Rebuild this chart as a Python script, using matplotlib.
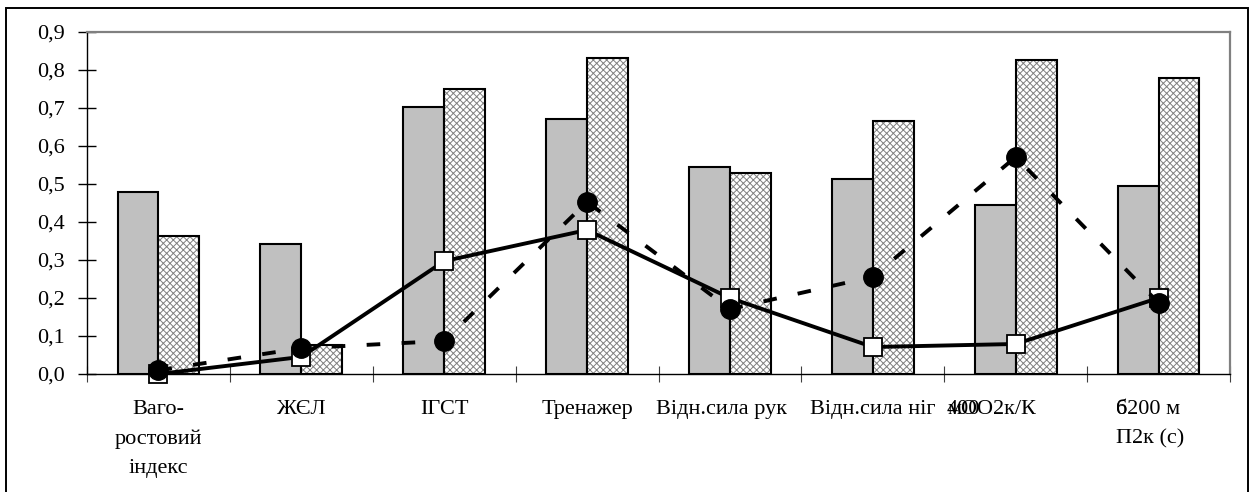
import numpy as np
import matplotlib
matplotlib.use("Agg")
import matplotlib.pyplot as plt
from matplotlib.patches import Rectangle
from matplotlib.ticker import FixedLocator, NullFormatter, FuncFormatter

# ---------------- data ----------------
categories = ["Ваго-\nростовий\nіндекс", "ЖЄЛ", "ІГСТ", "Тренажер",
              "Відн.сила рук", "Відн.сила ніг", "мОО2к/К", "6200 м\nП2к (с)"]
overlay_labels = ["", "", "", "", "", "", "400", "б"]
gray_values = [0.479, 0.342, 0.703, 0.671, 0.545, 0.513, 0.445, 0.495]
hatched_values = [0.364, 0.076, 0.750, 0.832, 0.529, 0.666, 0.826, 0.780]
square_values = [0.000, 0.045, 0.297, 0.379, 0.200, 0.071, 0.079, 0.200]
circle_values = [0.010, 0.068, 0.087, 0.453, 0.171, 0.256, 0.571, 0.187]
yticks = [0.0, 0.1, 0.2, 0.3, 0.4, 0.5, 0.6, 0.7, 0.8, 0.9]

# ---------------- style ----------------
plt.rcParams["font.family"] = ["Liberation Serif", "DejaVu Serif"]
plt.rcParams["hatch.linewidth"] = 0.7
FS = 16

W, H = 1254, 492
fig = plt.figure(figsize=(W / 100, H / 100), dpi=100)
ax = fig.add_axes([87 / W, 1 - 374 / H, (1230 - 87) / W, (374 - 32) / H])

x = np.arange(len(categories))
bw = 0.2857

ax.bar(x - bw / 2, gray_values, width=bw, color="#c0c0c0",
       edgecolor="black", linewidth=1.5, zorder=2)
ax.bar(x + bw / 2, hatched_values, width=bw, color="white",
       edgecolor="#808080", linewidth=0, hatch="xxxxx", zorder=2)
ax.bar(x + bw / 2, hatched_values, width=bw, fill=False,
       edgecolor="black", linewidth=1.5, zorder=3)

ax.plot(x, square_values, color="black", linewidth=2.8, marker="s",
        markersize=13, markerfacecolor="white", markeredgecolor="black",
        markeredgewidth=1.3, zorder=4, clip_on=False)
ax.plot(x, circle_values, color="black", linewidth=2.8,
        linestyle=(0, (3.5, 5.5)), marker="o", markersize=14,
        markerfacecolor="black", markeredgecolor="black",
        zorder=5, clip_on=False)

ax.set_xlim(-0.5, len(categories) - 0.5)
ax.set_ylim(0, 0.9)

# y axis
ax.set_yticks(yticks)
ax.yaxis.set_major_formatter(FuncFormatter(lambda v, p: f"{v:.1f}".replace(".", ",")))
ax.tick_params(axis="y", direction="inout", length=13, width=1,
               labelsize=FS, pad=9.5, colors="black")

# x axis: ticks at category boundaries, labels drawn manually
ax.xaxis.set_major_locator(FixedLocator(np.arange(-0.5, len(categories), 1.0)))
ax.xaxis.set_major_formatter(NullFormatter())
ax.tick_params(axis="x", direction="inout", length=11, width=0.8,
               color="#404040")

for side in ("top", "right"):
    ax.spines[side].set_color("#808080")
    ax.spines[side].set_linewidth(1.6)
for side in ("left", "bottom"):
    ax.spines[side].set_color("black")
    ax.spines[side].set_linewidth(1.0)

trans = ax.get_xaxis_transform()
label_y = -(400 - 374) / (374 - 32)
for i, (lab, ov) in enumerate(zip(categories, overlay_labels)):
    if i == 4:
        xp, ha = 3.94, "center"
    elif i == 6:
        xp, ha = 5.52, "left"
    elif i == 7:
        xp, ha = 6.70, "left"
    else:
        xp, ha = i, "center"
    ax.text(xp, label_y, lab, transform=trans, ha=ha, va="top",
            fontsize=FS, linespacing=1.72, multialignment=ha)
    if ov:
        ax.text(xp, label_y, ov, transform=trans, ha="left", va="top",
                fontsize=FS)

# outer chart-area frame (extends below the visible figure)
fig.patches.append(Rectangle((6 / W, -0.1), (1248 - 6) / W, (H - 8) / H + 0.1,
                             transform=fig.transFigure, fill=False,
                             edgecolor="black", linewidth=1.4, clip_on=False))

fig.savefig("out.png", dpi=100)
